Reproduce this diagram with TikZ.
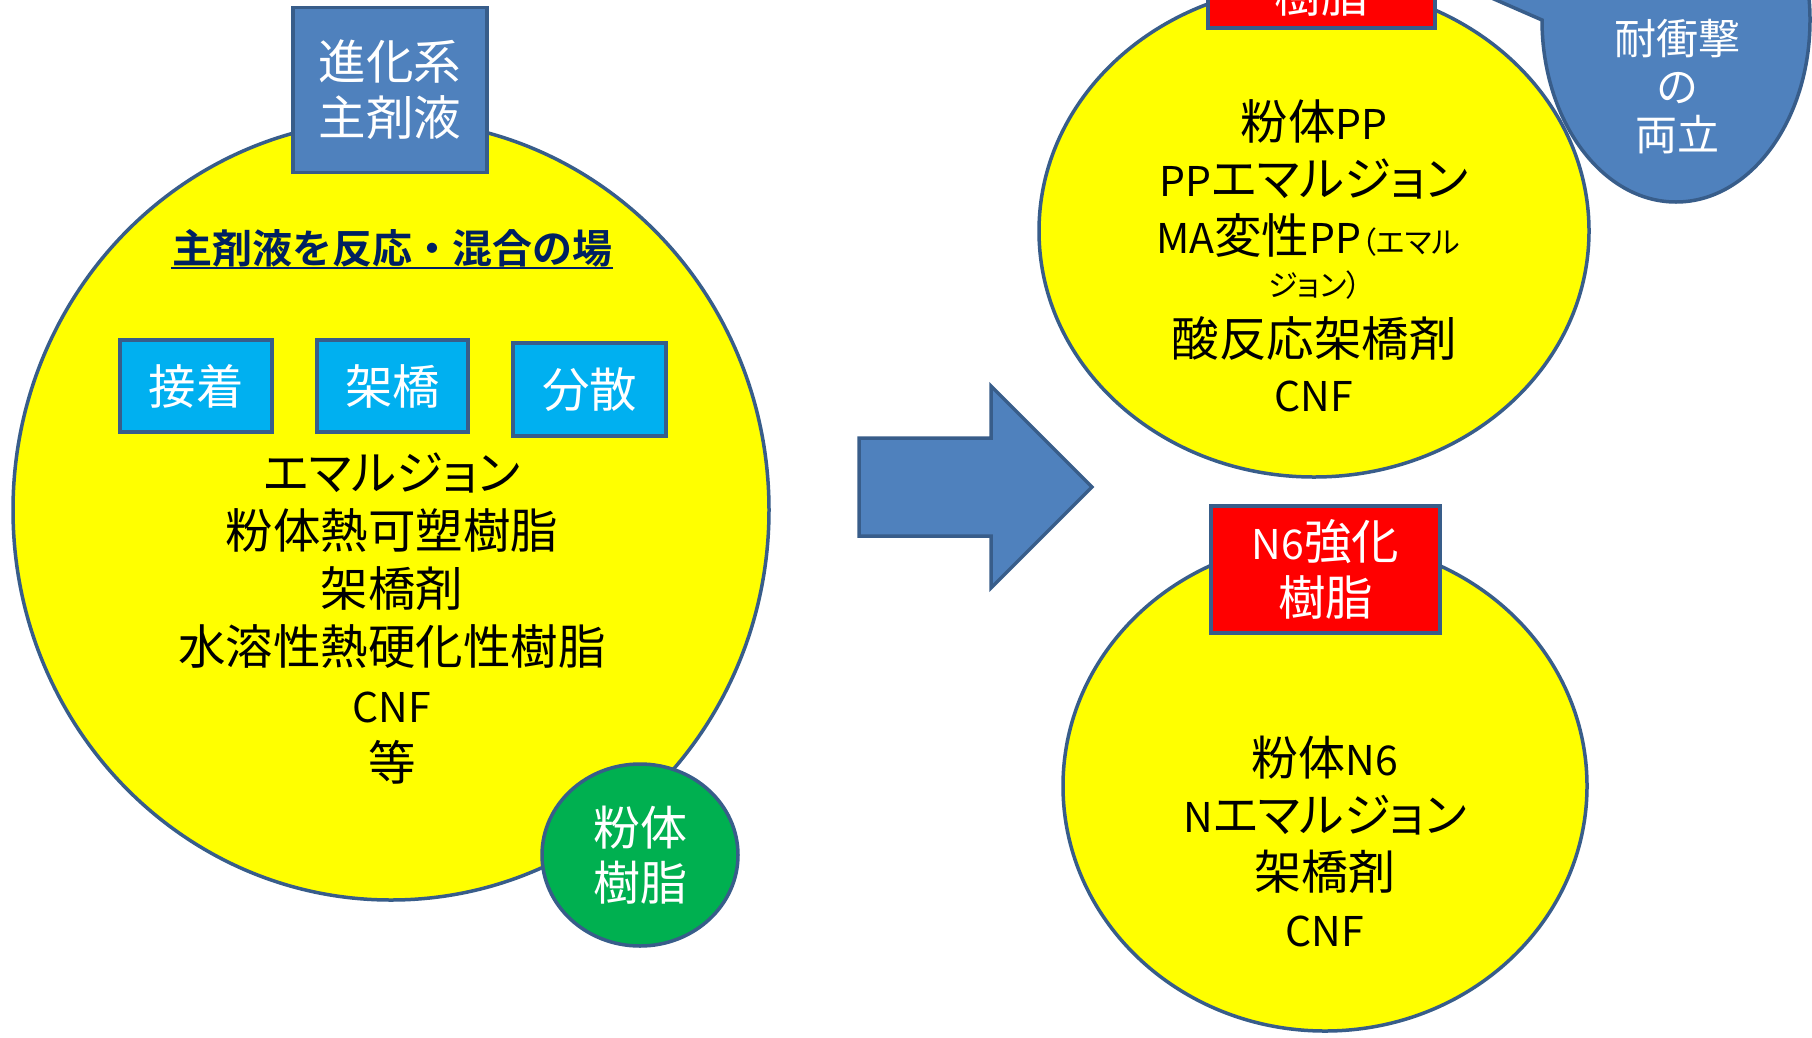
\documentclass[tikz,border=0pt]{standalone}
\usepackage{fontspec}
\setmainfont{Noto Sans CJK JP}[BoldFont={Noto Sans CJK JP Bold}]
\newfontfamily\pf{Noto Sans CJK JP}[RawFeature=+palt]
\newcommand\lt[1]{{\fontsize{41}{41}\selectfont #1}}
\usetikzlibrary{shapes.geometric}
\definecolor{edge}{HTML}{385D8A}
\definecolor{bluefill}{HTML}{4F81BD}
\definecolor{cyanfill}{HTML}{00B0F0}
\definecolor{greenfill}{HTML}{00B050}
\definecolor{navy}{HTML}{002060}
\definecolor{yel}{RGB}{255,255,0}
\definecolor{redfill}{RGB}{255,0,0}
\tikzset{
 blob/.style={ellipse, draw=edge, line width=3.5pt, fill=yel, inner sep=0pt},
 box/.style={rectangle, draw=edge, line width=3.5pt, inner sep=0pt, text=white, align=center},
 big/.style={font=\pf\fontsize{47.5}{58}\selectfont, align=center, text=black, inner sep=0pt},
 boxtext/.style={font=\pf\fontsize{47.5}{56}\selectfont},
}
\begin{document}
\begin{tikzpicture}[x=1pt,y=-1pt]
\useasboundingbox (0,0) rectangle (1812,1037);
\fill[white] (0,0) rectangle (1812,1037);
\clip (0,0) rectangle (1812,1037);

% left group
\node[blob, minimum width=756, minimum height=780] (main) at (391,510) {};
\node[box, fill=bluefill, minimum width=194, minimum height=165, boxtext] (evo) at (390,90) {進化系\\主剤液};
\node[font=\bfseries\fontsize{40}{48}\selectfont, text=navy, inner sep=1pt] (title) at (392,248) {主剤液を反応・混合の場};
\draw[navy, line width=2pt] (title.south west) -- (title.south east);
\node[box, fill=cyanfill, minimum width=152, minimum height=92, boxtext] (adh) at (196,386) {接着};
\node[box, fill=cyanfill, minimum width=151, minimum height=92, boxtext] (cross) at (392.5,386) {架橋};
\node[box, fill=cyanfill, minimum width=153, minimum height=93, boxtext] (disp) at (589.5,389.5) {分散};
\node[big] (list) at (392,619) {エマルジョン\\粉体熱可塑樹脂\\架橋剤\\水溶性熱硬化性樹脂\\\lt{CNF}\\等};
\node[ellipse, draw=edge, line width=3.5pt, fill=greenfill, minimum width=196, minimum height=182, inner sep=0pt, text=white, align=center, font=\pf\fontsize{47}{55}\selectfont] (powder) at (640,855) {粉体\\樹脂};

% arrow
\filldraw[fill=bluefill, draw=edge, line width=3.5pt, line join=miter]
  (859,438) -- (991,438) -- (991,386) -- (1092,487) -- (991,588) -- (991,536) -- (859,536) -- cycle;

% top right group
\node[blob, minimum width=550, minimum height=492] (pp) at (1314,231) {};
\node[box, fill=redfill, minimum width=227, minimum height=127] (ppbox) at (1321.5,-35.5) {};
\node[text=white, boxtext, inner sep=0pt] (pplabel) at (1321.5,-6) {樹脂};
\node[big] (pp1) at (1314,121) {粉体\lt{PP}};
\node[big] (pp2) at (1314,179) {\lt{PP}エマルジョン};
\node[big] (pp3) at (1308,236) {\lt{MA}変性\lt{PP}{\fontsize{30}{38}\selectfont （エマル}};
\node[big, font=\pf\fontsize{30}{38}\selectfont] (pp4) at (1315,285) {ジョン）};
\node[big] (pp5) at (1314,339) {酸反応架橋剤};
\node[big] (pp6) at (1314,396) {\lt{CNF}};

% callout
\filldraw[fill=bluefill, draw=edge, line width=3.5pt, line join=miter]
  (1400,-42) -- (1542,20) arc[start angle=180, end angle=-60, x radius=134, y radius=182] -- cycle;
\node[text=white, align=center, font=\fontsize{42}{48}\selectfont, inner sep=0pt] (impact) at (1677,87) {耐衝撃\\の\\両立};

% bottom right group
\node[blob, minimum width=524, minimum height=490] (n6) at (1325,786) {};
\node[box, fill=redfill, minimum width=229, minimum height=127, boxtext] (n6box) at (1325.5,569.5) {\lt{N6}強化\\樹脂};
\node[big, font=\pf\fontsize{47}{57}\selectfont] (n6list) at (1325,842) {粉体\lt{N6}\\\lt{N}エマルジョン\\架橋剤\\\lt{CNF}};
\end{tikzpicture}
\end{document}
